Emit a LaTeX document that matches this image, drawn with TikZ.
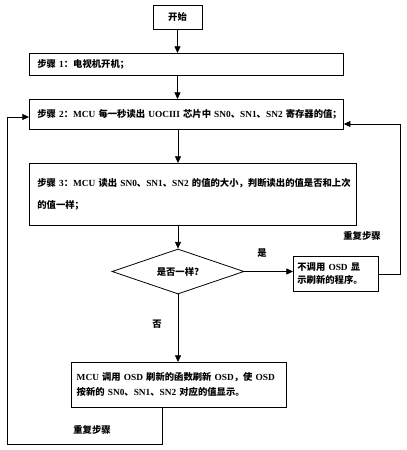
\documentclass[tikz,border=0pt]{standalone}
\usepackage{fontspec}
\setmainfont{Noto Sans CJK SC}
\newfontfamily\latinfont{Liberation Serif}
\newcommand{\latn}[1]{{\latinfont\bfseries #1}}
\usetikzlibrary{arrows.meta,shapes.geometric}
\tikzset{
  txt/.style={font=\fontsize{7}{9}\selectfont\bfseries},
  stepbox/.style={txt, draw, line width=0.6pt, anchor=north west, align=left, inner xsep=6pt},
  decision/.style={txt, draw, line width=0.6pt, diamond, aspect=3, inner sep=0pt,
    minimum width=99pt, minimum height=33.75pt},
  flow/.style={line width=0.6pt, -{Triangle[length=5pt,width=4.5pt]}},
  link/.style={line width=0.6pt},
}
\begin{document}
\begin{tikzpicture}[x=0.75pt, y=-0.75pt]
  \useasboundingbox (0,0) rectangle (407,450);
  % boxes
  \node[txt, draw, line width=0.6pt, minimum width=36.75pt, minimum height=18pt] (start) at (177.5,17) {开始};
  \node[stepbox, text width=223.5pt, minimum height=16.5pt] (step1) at (29,53)
    {\mbox{步骤 \latn{1}：电视机开机；}};
  \node[stepbox, text width=223.5pt, minimum height=22.5pt] (step2) at (29,99)
    {\mbox{步骤 \latn{2}：\latn{MCU} 每一秒读出 \latn{UOCIII} 芯片中 \latn{SN0}、\latn{SN1}、\latn{SN2} 寄存器的值；}};
  \node[stepbox, text width=233.25pt, minimum height=46.5pt] (step3) at (29,163)
    {\mbox{步骤 \latn{3}：\latn{MCU} 读出 \latn{SN0}、\latn{SN1}、\latn{SN2} 的值的大小，判断读出的值是否和上次}\\[8pt]\mbox{的值一样；}};
  \node[decision] (same) at (178,271.5) {是否一样?};
  \node[stepbox, inner xsep=3pt, text width=57.75pt, minimum height=26.25pt,
    font=\fontsize{7}{9.75}\selectfont\bfseries] (keep) at (293,256)
    {\mbox{不调用 \latn{OSD} 显}\\\mbox{示刷新的程序。}};
  \node[stepbox, inner xsep=4pt, text width=153.25pt, minimum height=33.75pt,
    font=\fontsize{7}{11.25}\selectfont\bfseries] (redraw) at (71,362)
    {\mbox{\latn{MCU} 调用 \latn{OSD} 刷新的函数刷新 \latn{OSD}，使 \latn{OSD}}\\\mbox{按新的 \latn{SN0}、\latn{SN1}、\latn{SN2} 对应的值显示。}};
  % labels
  \node[txt] (yes) at (262,253) {是};
  \node[txt] (no) at (157,324) {否};
  \node[txt] (againR) at (362,236) {重复步骤};
  \node[txt] (againL) at (92,430) {重复步骤};
  % loop corners
  \coordinate (rt) at (400,124);
  \coordinate (lb) at (162,444);
  \coordinate (lt) at (7,117);
  % connectors
  \draw[flow] (start.south) -- (start.south |- step1.north);
  \draw[flow] (start.south |- step1.south) -- (start.south |- step2.north);
  \draw[flow] (same.north |- step2.south) -- (same.north |- step3.north);
  \draw[flow] (same.north |- step3.south) -- (same.north);
  \draw[flow] (same.east) -- (same.east -| keep.west);
  \draw[flow] (same.south) -- (same.south |- redraw.north);
  \draw[flow] (keep.east) -| (rt) -- (rt -| step2.east);
  \draw[flow] (redraw.south -| lb) -- (lb) -| (lt) -- (lt -| step2.west);
\end{tikzpicture}
\end{document}
